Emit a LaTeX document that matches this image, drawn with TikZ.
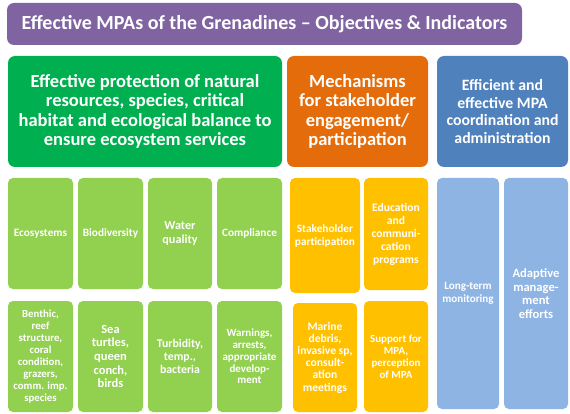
\documentclass[tikz,border=0pt]{standalone}
\usepackage{fontspec}
\setmainfont{Carlito}
\definecolor{titlepurple}{HTML}{8064A2}
\definecolor{objgreen}{HTML}{00B050}
\definecolor{objorange}{HTML}{E46C0A}
\definecolor{objblue}{HTML}{4F81BD}
\definecolor{indgreen}{HTML}{92D050}
\definecolor{indamber}{HTML}{FFC000}
\definecolor{indblue}{HTML}{8EB4E3}
\tikzset{
  panel/.style={rounded corners=7pt, text=white, align=center, inner sep=0pt, font=\bfseries},
  cell/.style={panel, rounded corners=5pt},
  fsz/.style 2 args={font=\bfseries\fontsize{#1}{#2}\selectfont}
}
\begin{document}
\begin{tikzpicture}[x=1pt, y=-1pt, line join=round, line cap=round]
  \useasboundingbox (0,0) rectangle (570,414);
  % titre
  \node[panel, fill=titlepurple, minimum width=515pt, minimum height=42pt, fsz={20}{24}] (title) at (264.5,24)
        {Effective MPAs of the Grenadines -- Objectives \& Indicators};
  % objectives
  \node[panel, fill=objgreen, minimum width=274pt, minimum height=111pt, fsz={18.5}{19.6}] (protect) at (145,111.5)
        {Effective protection of natural\\resources, species, critical\\habitat and ecological balance to\\ensure ecosystem services};
  \node[panel, fill=objorange, minimum width=141pt, minimum height=111pt, fsz={18.5}{19.6}] (mechanisms) at (357.5,111.5)
        {Mechanisms\\for stakeholder\\engagement/\\participation};
  \node[panel, fill=objblue, minimum width=131pt, minimum height=111pt, fsz={15.8}{17.7}] (admin) at (502.5,111.5)
        {Efficient and\\effective MPA\\coordination and\\administration};
  % objectives of the green column
  \node[cell, fill=indgreen, minimum width=65pt, minimum height=111pt, fsz={11.3}{12.5}] (ecosys) at (40.5,233.5) {Ecosystems};
  \node[cell, fill=indgreen, minimum width=65pt, minimum height=111pt, fsz={11.3}{12.5}] (biodiv) at (110.5,233.5) {Biodiversity};
  \node[cell, fill=indgreen, minimum width=64pt, minimum height=111pt, fsz={12.2}{13.7}] (water) at (180,233.5) {Water\\quality};
  \node[cell, fill=indgreen, minimum width=65pt, minimum height=111pt, fsz={11.3}{12.5}] (comply) at (249.5,233.5) {Compliance};
  % indicators
  \node[cell, fill=indgreen, minimum width=65pt, minimum height=111pt, fsz={10.8}{12}] (benthic) at (40.5,356.5)
        {Benthic,\\reef\\structure,\\coral\\condition,\\grazers,\\comm. imp.\\species};
  \node[cell, fill=indgreen, minimum width=65pt, minimum height=111pt, fsz={12.5}{13.6}] (turtles) at (110.5,356.5)
        {Sea\\turtles,\\queen\\conch,\\birds};
  \node[cell, fill=indgreen, minimum width=64pt, minimum height=111pt, fsz={11.8}{13.3}] (turbid) at (180,356.5)
        {Turbidity,\\temp.,\\bacteria};
  \node[cell, fill=indgreen, minimum width=65pt, minimum height=111pt, fsz={11}{11.7}] (warn) at (249.5,356.5)
        {Warnings,\\arrests,\\appropriate\\develop-\\ment};
  % orange column
  \node[cell, fill=indamber, minimum width=70pt, minimum height=115pt, fsz={11.3}{13}] (stake) at (325,235.5)
        {Stakeholder\\participation};
  \node[cell, fill=indamber, minimum width=64pt, minimum height=112pt, fsz={11.6}{13}] (educ) at (396,234)
        {Education\\and\\communi-\\cation\\programs};
  \node[cell, fill=indamber, minimum width=64pt, minimum height=109pt, fsz={11.6}{12.2}] (debris) at (325,357.5)
        {Marine\\debris,\\invasive sp,\\consult-\\ation\\meetings};
  \node[cell, fill=indamber, minimum width=64pt, minimum height=111pt, fsz={10.9}{12}] (support) at (396,356.5)
        {Support for\\MPA,\\perception\\of MPA};
  % blue column
  \node[cell, fill=indblue, minimum width=62pt, minimum height=231pt, fsz={11.1}{13}] (monitor) at (468,293.5)
        {Long-term\\monitoring};
  \node[cell, fill=indblue, minimum width=64pt, minimum height=231pt, fsz={12.6}{13.5}] (adapt) at (536,293.5)
        {Adaptive\\manage-\\ment\\efforts};
\end{tikzpicture}
\end{document}
